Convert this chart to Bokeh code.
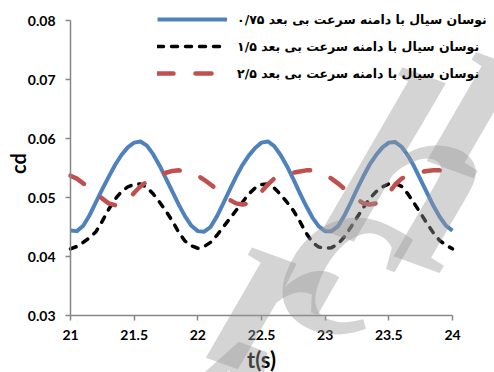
import math
from bokeh.plotting import figure
from bokeh.models import Range1d, FixedTicker, Legend, LegendItem, Label
from bokeh.embed import file_html
from bokeh.resources import INLINE

# sampling grid (s)
t = [round(21 + 0.05 * i, 2) for i in range(61)]

# drag coefficient for each dimensionless velocity amplitude
cd_075 = [0.0444, 0.0443, 0.0452, 0.0470, 0.0492, 0.0514, 0.0535, 0.0555, 0.0572, 0.0585,
          0.0593, 0.0595, 0.0588, 0.0573, 0.0554, 0.0532, 0.0510, 0.0488, 0.0468, 0.0452,
          0.0443, 0.0442, 0.0450, 0.0468, 0.0490, 0.0513, 0.0535, 0.0555, 0.0571, 0.0584,
          0.0593, 0.0595, 0.0587, 0.0572, 0.0553, 0.0531, 0.0508, 0.0486, 0.0466, 0.0451,
          0.0443, 0.0443, 0.0451, 0.0469, 0.0491, 0.0514, 0.0536, 0.0556, 0.0572, 0.0585,
          0.0593, 0.0594, 0.0586, 0.0571, 0.0552, 0.0530, 0.0508, 0.0486, 0.0467, 0.0452,
          0.0444]
cd_15 = [0.0413, 0.0417, 0.0424, 0.0432, 0.0442, 0.0460, 0.0480, 0.0497, 0.0510, 0.0518,
         0.0522, 0.0523, 0.0517, 0.0506, 0.0492, 0.0477, 0.0460, 0.0441, 0.0426, 0.0418,
         0.0414, 0.0417, 0.0424, 0.0436, 0.0450, 0.0464, 0.0478, 0.0492, 0.0506, 0.0516,
         0.0522, 0.0523, 0.0516, 0.0505, 0.0492, 0.0478, 0.0460, 0.0440, 0.0424, 0.0416,
         0.0414, 0.0415, 0.0421, 0.0433, 0.0449, 0.0466, 0.0483, 0.0498, 0.0510, 0.0518,
         0.0523, 0.0524, 0.0519, 0.0506, 0.0490, 0.0473, 0.0456, 0.0440, 0.0427, 0.0419,
         0.0413]
cd_25 = [0.0537, 0.0532, 0.0524, 0.0516, 0.0508, 0.0498, 0.0490, 0.0487, 0.0488, 0.0496,
         0.0508, 0.0519, 0.0527, 0.0533, 0.0538, 0.0542, 0.0545, 0.0546, 0.0545, 0.0542,
         0.0537, 0.0530, 0.0522, 0.0514, 0.0505, 0.0496, 0.0490, 0.0488, 0.0490, 0.0498,
         0.0510, 0.0522, 0.0532, 0.0537, 0.0540, 0.0542, 0.0544, 0.0546, 0.0546, 0.0543,
         0.0538, 0.0532, 0.0524, 0.0515, 0.0506, 0.0497, 0.0490, 0.0488, 0.0490, 0.0496,
         0.0508, 0.0522, 0.0532, 0.0537, 0.0540, 0.0543, 0.0545, 0.0546, 0.0546, 0.0544,
         0.0541]

series_labels = [
    "نوسان سیال با دامنه سرعت بی بعد ۰/۷۵",
    "نوسان سیال با دامنه سرعت بی بعد ۱/۵",
    "نوسان سیال با دامنه سرعت بی بعد ۲/۵",
]

x_ticks = [21, 21.5, 22, 22.5, 23, 23.5, 24]
x_tick_labels = ["21", "21.5", "22", "22.5", "23", "23.5", "24"]
y_ticks = [0.03, 0.04, 0.05, 0.06, 0.07, 0.08]
y_tick_labels = ["0.03", "0.04", "0.05", "0.06", "0.07", "0.08"]

W, H = 494, 372
# axis box in pixels: left, right, top, bottom
AX_L, AX_R, AX_T, AX_B = 70, 452, 20, 315
x0, x1 = x_ticks[0], x_ticks[-1]
y0, y1 = y_ticks[0], y_ticks[-1]
sx = (AX_R - AX_L) / (x1 - x0)
sy = (AX_B - AX_T) / (y1 - y0)


def to_data(px, py):
    """Canvas pixel position -> data coordinates."""
    return x0 + (px - AX_L) / sx, y0 + (AX_B - py) / sy


# the frame spans the whole canvas; axes sit at fixed data locations
p = figure(width=W, height=H, output_backend="svg", toolbar_location=None,
           x_range=Range1d(x0 - AX_L / sx, x1 + (W - AX_R) / sx),
           y_range=Range1d(y0 - (H - AX_B) / sy, y1 + AX_T / sy),
           min_border=0)
p.outline_line_color = None
p.grid.visible = False
p.background_fill_color = "white"
p.border_fill_color = "white"

p.xaxis.fixed_location = y0
p.yaxis.fixed_location = x0
p.xaxis.bounds = (x0, x1)
p.yaxis.bounds = (y0, y1)

for ax, ticks, labels in ((p.xaxis[0], x_ticks, x_tick_labels), (p.yaxis[0], y_ticks, y_tick_labels)):
    ax.ticker = FixedTicker(ticks=ticks)
    ax.major_label_overrides = {tk: lb for tk, lb in zip(ticks, labels)}
    ax.minor_tick_line_color = None
    ax.axis_line_color = "#868686"
    ax.axis_line_width = 1.5
    ax.major_tick_line_color = "#868686"
    ax.major_tick_line_width = 1.5
    ax.major_tick_out = 5
    ax.major_tick_in = 0
    ax.major_label_text_font = "Lato"
    ax.major_label_text_font_style = "bold"
    ax.major_label_text_font_size = "14px"
    ax.major_label_text_color = "black"

p.yaxis.major_label_standoff = 10
p.xaxis.major_label_standoff = 9

r1 = p.line(t, cd_075, line_color="#4F81BD", line_width=4, line_join="round")
r2 = p.line(t, cd_15, line_color="black", line_width=3.5, line_dash="6 8", line_cap="round")
r3 = p.line(t, cd_25, line_color="#C0504D", line_width=4.5, line_dash="16 22", line_cap="round")

# axis titles
cx, cy = to_data(17, 163)
p.add_layout(Label(x=cx, y=cy, text="cd", angle=math.pi / 2,
                   text_align="center", text_baseline="middle", text_font="Lato",
                   text_font_style="bold", text_font_size="20px", text_color="black"))
tx, ty = to_data((AX_L + AX_R) / 2, 359)
p.add_layout(Label(x=tx, y=ty, text="t(s)",
                   text_align="center", text_baseline="middle", text_font="Lato",
                   text_font_style="bold", text_font_size="22px", text_color="black"))

legend = Legend(items=[LegendItem(label=series_labels[0], renderers=[r1]),
                       LegendItem(label=series_labels[1], renderers=[r2]),
                       LegendItem(label=series_labels[2], renderers=[r3])],
                location=(157, 289), padding=0, margin=0, spacing=7,
                glyph_width=70, glyph_height=20, label_height=20, label_standoff=10,
                label_text_font="DejaVu Sans", label_text_font_style="bold",
                label_text_font_size="12.5px", label_text_color="black",
                border_line_color=None, background_fill_alpha=0)
p.add_layout(legend)

# faint diagonal watermark, one letter at a time along a rising diagonal
wm_letters = ["A", "r", "c", "h", "i", "v", "e"]
wm_centres = [(210, 420), (278, 290), (352, 248), (415, 170), (484, 88), (550, 20), (615, -45)]
for ch, (px, py) in zip(wm_letters, wm_centres):
    lx, ly = to_data(px, py)
    p.add_layout(Label(x=lx, y=ly, text=ch, angle=-0.35,
                       text_align="center", text_baseline="middle",
                       text_font="Liberation Serif", text_font_style="bold italic",
                       text_font_size="260px", text_color="#989898", text_alpha=0.42))

open("out.html", "w").write(file_html(p, INLINE))
